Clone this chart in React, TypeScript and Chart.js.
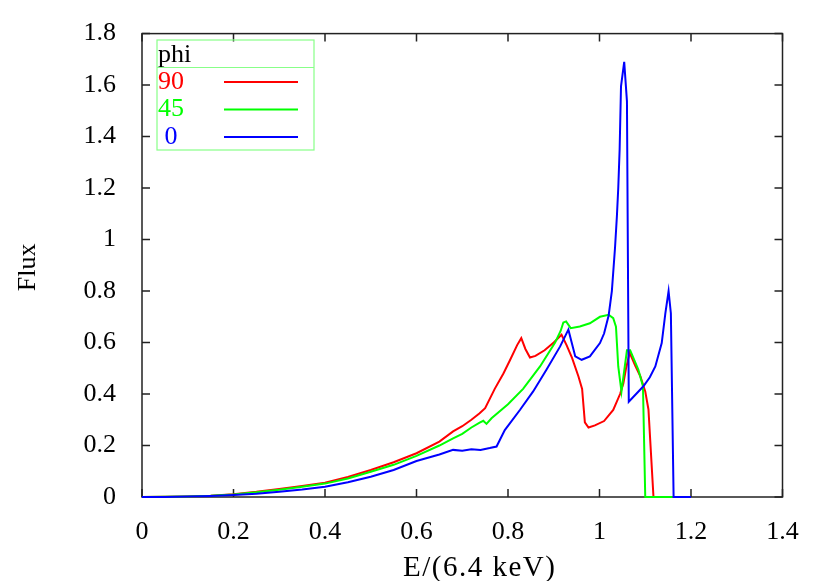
import React, { useEffect, useRef } from "react";
import { Chart, registerables } from "chart.js";

Chart.register(...registerables);

const redX = [0, 0.05, 0.1, 0.15, 0.2, 0.25, 0.3, 0.35, 0.4, 0.45, 0.5, 0.55, 0.6, 0.65, 0.68, 0.7, 0.72, 0.738, 0.75, 0.771, 0.79, 0.804, 0.82, 0.829, 0.838, 0.848, 0.86, 0.88, 0.9, 0.917, 0.928, 0.94, 0.954, 0.962, 0.968, 0.976, 0.99, 1.01, 1.03, 1.045, 1.052, 1.058, 1.066, 1.078, 1.089, 1.1, 1.107, 1.118, 1.16];
const redY = [0, 0.0005, 0.002, 0.005, 0.011, 0.02, 0.031, 0.043, 0.055, 0.078, 0.105, 0.135, 0.17, 0.215, 0.255, 0.275, 0.3, 0.325, 0.345, 0.42, 0.48, 0.53, 0.59, 0.617, 0.575, 0.542, 0.548, 0.57, 0.6, 0.63, 0.59, 0.54, 0.468, 0.42, 0.29, 0.27, 0.278, 0.295, 0.338, 0.4, 0.44, 0.5, 0.56, 0.51, 0.47, 0.41, 0.34, 0, 0];

const greenX = [0, 0.05, 0.1, 0.15, 0.2, 0.25, 0.3, 0.35, 0.4, 0.45, 0.5, 0.55, 0.6, 0.65, 0.68, 0.7, 0.72, 0.738, 0.746, 0.753, 0.764, 0.8, 0.833, 0.87, 0.903, 0.915, 0.921, 0.927, 0.937, 0.957, 0.979, 1.001, 1.02, 1.03, 1.036, 1.041, 1.048, 1.06, 1.067, 1.085, 1.095, 1.1, 1.16];
const greenY = [0, 0.0005, 0.002, 0.005, 0.01, 0.018, 0.028, 0.04, 0.052, 0.072, 0.098, 0.125, 0.16, 0.2, 0.228, 0.245, 0.27, 0.289, 0.296, 0.284, 0.306, 0.36, 0.42, 0.507, 0.6, 0.645, 0.678, 0.682, 0.656, 0.662, 0.675, 0.7, 0.708, 0.695, 0.662, 0.507, 0.41, 0.57, 0.57, 0.494, 0.43, 0, 0];

const blueX = [0, 0.05, 0.1, 0.15, 0.2, 0.25, 0.3, 0.35, 0.4, 0.45, 0.5, 0.55, 0.6, 0.65, 0.68, 0.7, 0.72, 0.74, 0.76, 0.775, 0.793, 0.826, 0.855, 0.884, 0.914, 0.932, 0.947, 0.961, 0.979, 1.001, 1.01, 1.02, 1.027, 1.034, 1.038, 1.041, 1.044, 1.047, 1.054, 1.06, 1.064, 1.08, 1.096, 1.11, 1.122, 1.136, 1.144, 1.151, 1.156, 1.162, 1.2];
const blueY = [0, 0.0004, 0.0015, 0.004, 0.008, 0.013, 0.02, 0.029, 0.04, 0.057, 0.079, 0.105, 0.14, 0.165, 0.183, 0.18, 0.185, 0.183, 0.19, 0.196, 0.26, 0.338, 0.41, 0.494, 0.585, 0.65, 0.546, 0.533, 0.546, 0.598, 0.635, 0.705, 0.8, 0.97, 1.09, 1.2, 1.35, 1.595, 1.69, 1.537, 0.37, 0.4, 0.43, 0.465, 0.507, 0.598, 0.714, 0.8, 0.714, 0, 0];

const seriesLabels = ["90", "45", " 0"];
const seriesColors = ["#ff0000", "#00ff00", "#0000ff"];
const legendTitle = "phi";
const xTitle = "E/(6.4 keV)";
const yTitle = "Flux";

const FONT = "Liberation Serif";

const toPts = (xs: number[], ys: number[]) => xs.map((x, i) => ({ x, y: ys[i] }));

const framePlugin = {
  id: "frame",
  beforeDatasetsDraw(chart: any) {
    const { ctx, chartArea } = chart;
    const { left, right, top, bottom } = chartArea;
    ctx.save();
    ctx.strokeStyle = "#222";
    ctx.lineWidth = 1.5;
    const xs = chart.scales.x;
    const ys = chart.scales.y;
    const tl = 8;
    ctx.beginPath();
    xs.ticks.forEach((t: any) => {
      const px = xs.getPixelForValue(t.value);
      ctx.moveTo(px, bottom);
      ctx.lineTo(px, bottom - tl);
      ctx.moveTo(px, top);
      ctx.lineTo(px, top + tl);
    });
    ys.ticks.forEach((t: any) => {
      const py = ys.getPixelForValue(t.value);
      ctx.moveTo(left, py);
      ctx.lineTo(left + tl, py);
      ctx.moveTo(right, py);
      ctx.lineTo(right - tl, py);
    });
    ctx.stroke();
    ctx.strokeRect(left, top, right - left, bottom - top);
    ctx.restore();
  },
  afterDraw(chart: any) {
    const { ctx, chartArea } = chart;
    ctx.save();
    ctx.fillStyle = "#000";
    ctx.textBaseline = "middle";
    // x title
    ctx.save();
    ctx.font = `29px "${FONT}"`;
    ctx.textAlign = "left";
    (ctx as any).letterSpacing = "1.5px";
    const w = ctx.measureText(xTitle).width;
    ctx.fillText(xTitle, 479 - (w - 1.5) / 2, 568);
    ctx.restore();
    ctx.font = `26px "${FONT}"`;
    ctx.textAlign = "center";
    ctx.save();
    ctx.translate(28, (chartArea.top + chartArea.bottom) / 2 + 2);
    ctx.rotate(-Math.PI / 2);
    ctx.fillText(yTitle, 0, 0);
    ctx.restore();
    // legend
    const bx = 157, by = 40, bw = 157, bh = 110;
    ctx.strokeStyle = "#88ff88";
    ctx.lineWidth = 1.2;
    ctx.strokeRect(bx, by, bw, bh);
    ctx.beginPath();
    ctx.moveTo(bx, 67.5);
    ctx.lineTo(bx + bw, 67.5);
    ctx.stroke();
    ctx.textAlign = "left";
    ctx.fillStyle = "#000";
    ctx.fillText(legendTitle, 158, 55);
    const rowY = [82, 109.5, 137];
    seriesLabels.forEach((lab, i) => {
      ctx.fillStyle = seriesColors[i];
      ctx.fillText(lab, 158, rowY[i]);
      ctx.strokeStyle = seriesColors[i];
      ctx.lineWidth = 2;
      ctx.beginPath();
      ctx.moveTo(224, rowY[i]);
      ctx.lineTo(298, rowY[i]);
      ctx.stroke();
    });
    ctx.restore();
  },
};

export default function App() {
  const ref = useRef<HTMLCanvasElement | null>(null);
  useEffect(() => {
    if (!ref.current) return;
    const fmt = (v: any) => String(Math.round(Number(v) * 10) / 10);
    const mk = (label: string, xs: number[], ys: number[], color: string, order: number) => ({
      label,
      data: toPts(xs, ys),
      borderColor: color,
      backgroundColor: color,
      borderWidth: 2,
      pointRadius: 0,
      tension: 0,
      fill: false,
      clip: 6,
      order,
    });
    const chart = new Chart(ref.current, {
      type: "line",
      data: {
        datasets: [
          mk(seriesLabels[0], redX, redY, seriesColors[0], 3),
          mk(seriesLabels[1], greenX, greenY, seriesColors[1], 2),
          mk(seriesLabels[2], blueX, blueY, seriesColors[2], 1),
        ],
      },
      options: {
        animation: false,
        responsive: false,
        layout: { padding: { left: 0, right: 47.5, top: 33, bottom: 0 } },
        plugins: { legend: { display: false }, tooltip: { enabled: false }, title: { display: false } },
        scales: {
          x: {
            type: "linear",
            min: 0,
            max: 1.4,
            grid: { display: false },
            border: { display: false },
            ticks: { stepSize: 0.2, color: "#000", font: { family: FONT, size: 26 }, padding: 12, callback: fmt, maxRotation: 0 },
            afterFit: (s: any) => { s.height = 84; },
          },
          y: {
            type: "linear",
            min: 0,
            max: 1.8,
            grid: { display: false },
            border: { display: false },
            ticks: { stepSize: 0.2, color: "#000", font: { family: FONT, size: 26 }, padding: 18, callback: fmt },
            afterFit: (s: any) => { s.width = 142; },
          },
        },
      },
      plugins: [framePlugin],
    });
    return () => chart.destroy();
  }, []);
  return (
    <div style={{ position: "fixed", left: 0, top: 0, width: 830, height: 581, background: "#fff" }}>
      <canvas ref={ref} width={830} height={581} style={{ width: 830, height: 581, display: "block" }} />
    </div>
  );
}
